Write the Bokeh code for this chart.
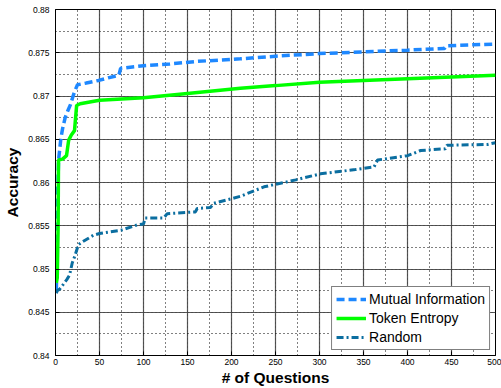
from bokeh.plotting import figure
from bokeh.models import SingleIntervalTicker, CustomJSTickFormatter, Range1d, Legend, LegendItem
from bokeh.embed import file_html
from bokeh.resources import INLINE

mi_x = [1, 2, 3.5, 6, 8, 11, 14, 17, 20, 22, 25, 35, 49, 60, 72, 74, 100, 130, 161, 210, 250, 299, 350, 400, 442, 444, 470, 500]
mi_y = [0.8475, 0.857, 0.8626, 0.865, 0.8662, 0.8675, 0.8683, 0.869, 0.8700, 0.8706, 0.8713, 0.8715, 0.8718, 0.8721, 0.8724, 0.8732, 0.8735, 0.8737, 0.8740, 0.8743, 0.8746, 0.8749, 0.8751, 0.8753, 0.8755, 0.8758, 0.8759, 0.8760]

te_x = [1, 2, 3, 3.4, 8, 12.5, 15, 18, 21.6, 24, 28, 50, 100, 150, 210, 250, 300, 350, 400, 450, 500]
te_y = [0.8484, 0.849, 0.855, 0.8626, 0.8627, 0.8631, 0.8649, 0.8655, 0.8660, 0.8689, 0.8691, 0.8695, 0.8698, 0.8703, 0.8709, 0.8712, 0.8716, 0.8718, 0.8720, 0.8722, 0.8724]

rd_x = [1, 2, 5, 8, 10, 13, 16, 19, 22, 26, 30, 43, 50, 75, 93, 100, 102, 123, 127, 159, 161, 176, 180, 210, 237, 273, 301, 341, 362, 366, 400, 415, 443, 445, 491, 500]
rd_y = [0.8472, 0.8475, 0.8477, 0.8481, 0.8484, 0.8488, 0.8493, 0.8507, 0.8515, 0.8528, 0.8531, 0.8539, 0.8541, 0.8545, 0.8551, 0.8552, 0.8559, 0.8559, 0.8564, 0.8566, 0.8570, 0.8571, 0.8576, 0.8584, 0.8595, 0.8603, 0.8610, 0.8615, 0.8618, 0.8626, 0.8631, 0.8637, 0.8639, 0.8643, 0.8644, 0.8646]

labels = ["Mutual Information", "Token Entropy", "Random"]

p = figure(width=501, height=388, output_backend="svg", toolbar_location=None,
           x_range=Range1d(0, 500), y_range=Range1d(0.84, 0.88),
           min_border_left=55, min_border_right=6, min_border_top=9, min_border_bottom=33)
p.background_fill_color = "white"
p.border_fill_color = "white"
p.outline_line_color = "black"
p.outline_line_width = 1

p.xaxis.ticker = SingleIntervalTicker(interval=50, num_minor_ticks=2)
p.yaxis.ticker = SingleIntervalTicker(interval=0.005, num_minor_ticks=2)
p.yaxis.formatter = CustomJSTickFormatter(code="return parseFloat(tick.toFixed(4)).toString();")

for ax in (p.xaxis[0], p.yaxis[0]):
    ax.major_tick_out = 0
    ax.major_tick_in = 4
    ax.minor_tick_out = 0
    ax.minor_tick_in = 0
    ax.axis_line_color = "black"
    ax.major_label_text_font = "Liberation Sans"
    ax.major_label_text_font_size = "8.5px"
    ax.major_label_text_color = "black"
    ax.axis_label_text_font = "Liberation Sans"
    ax.axis_label_text_font_size = "15.5px"
    ax.axis_label_text_font_style = "bold"
    ax.axis_label_text_color = "black"

p.xaxis.axis_label = "# of Questions"
p.yaxis.axis_label = "Accuracy"
p.xaxis.major_label_standoff = 3
p.xaxis.axis_label_standoff = 1
p.yaxis.major_label_standoff = 6
p.yaxis.axis_label_standoff = 4

for g in (p.xgrid[0], p.ygrid[0]):
    g.grid_line_color = "#444444"
    g.grid_line_width = 1.2
    g.grid_line_alpha = 0.9
    g.minor_grid_line_color = "black"
    g.minor_grid_line_dash = "1 3"
    g.minor_grid_line_width = 1

r1 = p.line(mi_x, mi_y, line_color="#1E88FF", line_width=3.5, line_dash="8 4")
r2 = p.line(te_x, te_y, line_color="#00FF00", line_width=3.5)
r3 = p.line(rd_x, rd_y, line_color="#0B6EA0", line_width=3, line_dash="7 3 2 3")

legend = Legend(items=[LegendItem(label=labels[0], renderers=[r1]),
                       LegendItem(label=labels[1], renderers=[r2]),
                       LegendItem(label=labels[2], renderers=[r3])],
                location="bottom_right")
legend.label_text_font = "Liberation Sans"
legend.label_text_font_size = "14px"
legend.label_text_color = "black"
legend.border_line_color = "black"
legend.border_line_width = 1
legend.background_fill_alpha = 1
legend.glyph_width = 30
legend.glyph_height = 14
legend.label_height = 14
legend.spacing = 3
legend.padding = 4
legend.margin = 5
legend.label_standoff = 3
p.add_layout(legend)

open("out.html", "w").write(file_html(p, INLINE))
